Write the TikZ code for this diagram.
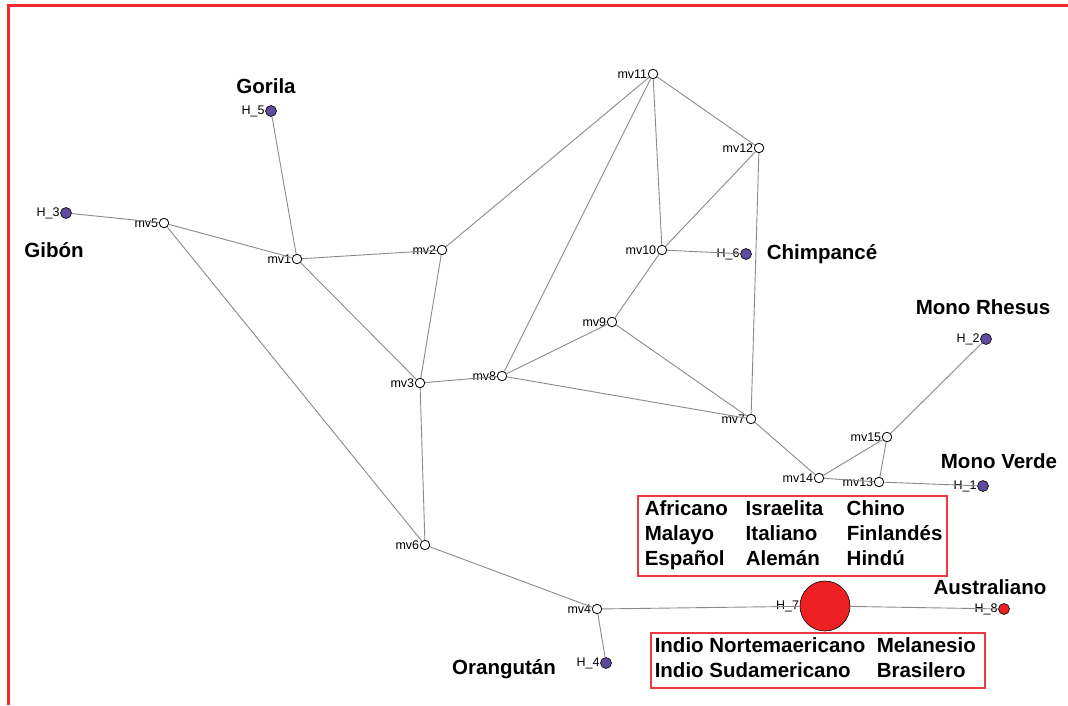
\documentclass[tikz,border=0pt]{standalone}
\usepackage{fontspec}
\setmainfont{Liberation Sans}
\definecolor{frame}{HTML}{EE2A2E}
\definecolor{boxline}{HTML}{EE3A3E}
\definecolor{haplo}{HTML}{5F4A9E}
\definecolor{pop}{HTML}{EE2024}
\definecolor{link}{HTML}{8A8A8A}
\tikzset{
  tag/.style={font=\fontsize{12.5}{12.5}\selectfont, inner sep=0.5pt, text=black},
  mv/.style={circle, draw=black, fill=white, line width=0.8pt, minimum size=9.5pt,
    inner sep=0pt, label distance=3pt, label={[tag]left:#1}},
  hap/.style={circle, draw=black, fill=haplo, line width=0.6pt, minimum size=11pt,
    inner sep=0pt, label distance=3pt, label={[tag]left:#1}},
  bigpop/.style={circle, draw=black, fill=pop, line width=0.6pt, minimum size=50pt,
    inner sep=0pt, label distance=3pt, label={[tag]left:#1}},
  smallpop/.style={circle, draw=black, fill=pop, line width=0.6pt, minimum size=11pt,
    inner sep=0pt, label distance=3pt, label={[tag]left:#1}},
  species/.style={font=\fontsize{20.5}{24}\selectfont\bfseries, inner sep=0pt},
  groupbox/.style={draw=boxline, line width=1.5pt, inner ysep=2.5pt,
    font=\fontsize{20.5}{25}\selectfont\bfseries, anchor=north west},
  link/.style={draw=link, line width=0.9pt}
}
\begin{document}
\begin{tikzpicture}[x=1pt, y=-1pt]
\useasboundingbox (0,0) rectangle (1068,705);
% page frame (top and left edges)
\draw[frame, line width=3pt] (8,705) -- (8,5) -- (1068,5);

% median vectors
\node[mv=mv1]  (mv1)  at (297,259) {};
\node[mv=mv2]  (mv2)  at (442,250) {};
\node[mv=mv3]  (mv3)  at (420,383) {};
\node[mv=mv4]  (mv4)  at (597,609) {};
\node[mv=mv5]  (mv5)  at (164,223) {};
\node[mv=mv6]  (mv6)  at (425,545) {};
\node[mv=mv7]  (mv7)  at (751,419) {};
\node[mv=mv8]  (mv8)  at (502,376) {};
\node[mv=mv9]  (mv9)  at (612,322) {};
\node[mv=mv10] (mv10) at (662,250) {};
\node[mv=mv11] (mv11) at (653,74)  {};
\node[mv=mv12] (mv12) at (759,148) {};
\node[mv=mv13] (mv13) at (879,482) {};
\node[mv=mv14] (mv14) at (819,478) {};
\node[mv=mv15] (mv15) at (887,437) {};

% haplotypes
\node[hap=H\_1] (h1) at (983,486) {};
\node[hap=H\_2] (h2) at (986,339) {};
\node[hap=H\_3] (h3) at (66,213)  {};
\node[hap=H\_4] (h4) at (606,663) {};
\node[hap=H\_5] (h5) at (271,111) {};
\node[hap=H\_6] (h6) at (746,254) {};
\node[bigpop=H\_7]   (h7) at (825,606) {};
\node[smallpop=H\_8] (h8) at (1004,609) {};

% network links
\path[link]
  (h3) -- (mv5)
  (mv5) -- (mv1)
  (mv5) -- (mv6)
  (h5) -- (mv1)
  (mv1) -- (mv2)
  (mv1) -- (mv3)
  (mv2) -- (mv11)
  (mv2) -- (mv3)
  (mv3) -- (mv8)
  (mv3) -- (mv6)
  (mv8) -- (mv11)
  (mv8) -- (mv9)
  (mv8) -- (mv7)
  (mv9) -- (mv10)
  (mv9) -- (mv7)
  (mv10) -- (mv11)
  (mv10) -- (mv12)
  (mv10) -- (h6)
  (mv11) -- (mv12)
  (mv12) -- (mv7)
  (mv7) -- (mv14)
  (mv14) -- (mv15)
  (mv14) -- (mv13)
  (mv15) -- (mv13)
  (mv15) -- (h2)
  (mv13) -- (h1)
  (mv6) -- (mv4)
  (mv4) -- (h4)
  (mv4) -- (h7)
  (h7) -- (h8);

% species names
\node[species] (gorila) at (266,86)  {Gorila};
\node[species] (gibon)  at (54,250)  {Gibón};
\node[species] (chimp)  at (822,254) {Chimpancé};
\node[species] (rhesus) at (983,307) {Mono Rhesus};
\node[species] (verde)  at (999,461) {Mono Verde};
\node[species] (orang)  at (504,669) {Orangután};
\node[species] (austr)  at (990,587) {Australiano};

% human population groups
\node[groupbox, inner xsep=7pt] (grpA) at (637,495) {%
  \begin{tabular}{@{}p{101pt}@{}p{101pt}@{}p{93pt}@{}}
  Africano & Israelita & Chino\\
  Malayo & Italiano & Finlandés\\
  Español & Alemán & Hindú
  \end{tabular}};
\node[groupbox, inner xsep=4pt] (grpB) at (650,632) {%
  \begin{tabular}{@{}p{222pt}@{}p{104pt}@{}}
  Indio Nortemaericano & Melanesio\\
  Indio Sudamericano & Brasilero
  \end{tabular}};
\end{tikzpicture}
\end{document}
